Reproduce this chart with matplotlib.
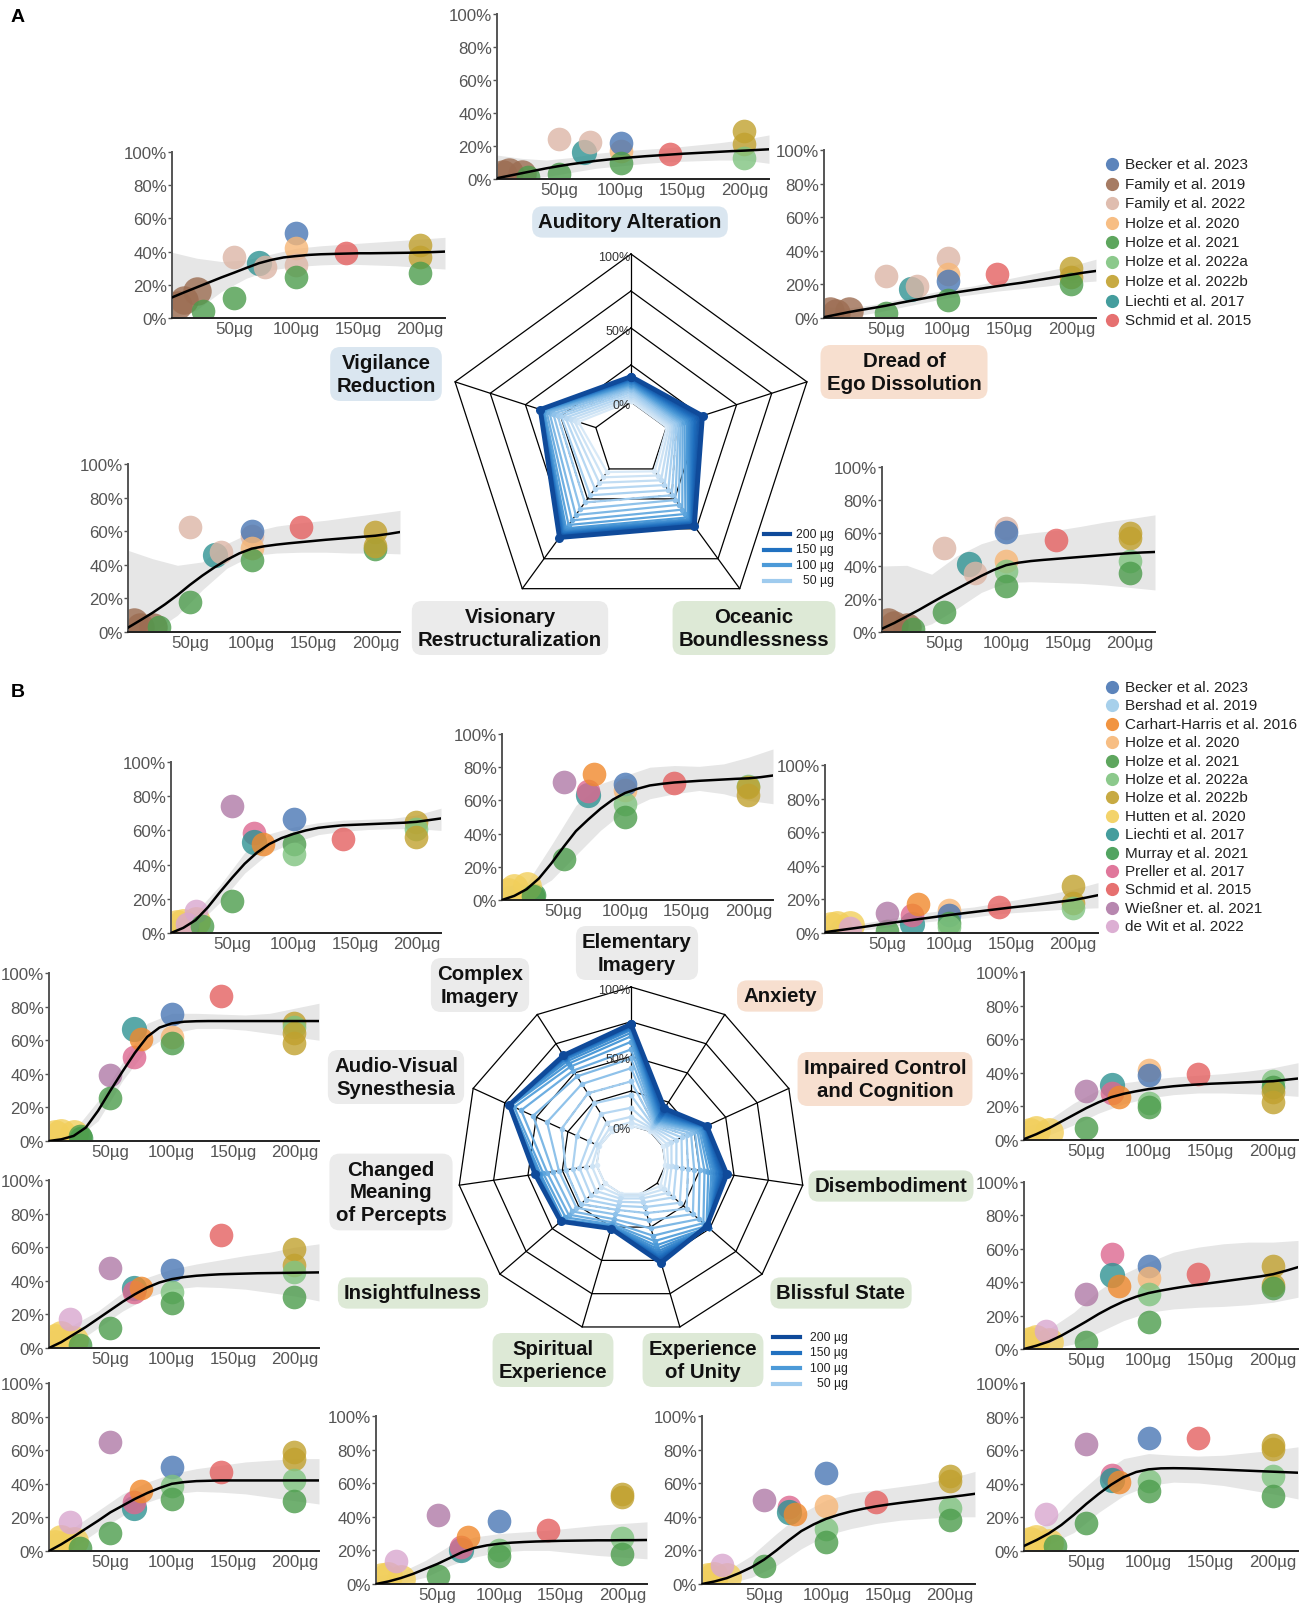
import numpy as np
import matplotlib
matplotlib.use("Agg")
import matplotlib.pyplot as plt
from matplotlib.colors import LinearSegmentedColormap

plt.rcParams["font.family"] = ["Liberation Sans", "DejaVu Sans"]

FIG_W, FIG_H = 1315, 1606

# ---------------------------------------------------------------- studies
BEC = "Becker et al. 2023"
BER = "Bershad et al. 2019"
CAR = "Carhart-Harris et al. 2016"
FAM19 = "Family et al. 2019"
FAM22 = "Family et al. 2022"
HOL20 = "Holze et al. 2020"
HOL21 = "Holze et al. 2021"
HOL22A = "Holze et al. 2022a"
HOL22B = "Holze et al. 2022b"
HUT = "Hutten et al. 2020"
LIE = "Liechti et al. 2017"
MUR = "Murray et al. 2021"
PRE = "Preller et al. 2017"
SCH = "Schmid et al. 2015"
WIE = "Wießner et. al. 2021"
DEW = "de Wit et al. 2022"

COLORS = {
    BEC: "#4a77b4", BER: "#9ecbe9", CAR: "#f0892c", FAM19: "#9c6d52",
    FAM22: "#dcb6a6", HOL20: "#f7b777", HOL21: "#4c9c4c", HOL22A: "#80c480",
    HOL22B: "#c1a12e", HUT: "#f2cf5b", LIE: "#2f9292", MUR: "#3f9a50",
    PRE: "#dd6890", SCH: "#e46060", WIE: "#b07aa6", DEW: "#d9a7cf",
}
SIZES = {FAM19: 420, HUT: 430, LIE: 330}

LEGEND_A = [BEC, FAM19, FAM22, HOL20, HOL21, HOL22A, HOL22B, LIE, SCH]
LEGEND_B = [BEC, BER, CAR, HOL20, HOL21, HOL22A, HOL22B, HUT, LIE, MUR,
            PRE, SCH, WIE, DEW]

# ---------------------------------------------------------------- axes scales
FIT_DOSES = list(range(0, 221, 10))
BAND_DOSES = list(range(0, 221, 20))
RADAR_DOSES = list(range(0, 201, 10))
DOSE_TICKS = [50, 100, 150, 200]
DOSE_TICK_LABELS = ["50µg", "100µg", "150µg", "200µg"]
PCT_TICKS = [0, 20, 40, 60, 80, 100]
PCT_TICK_LABELS = ["0%", "20%", "40%", "60%", "80%", "100%"]
RING_LEVELS = [0, 25, 50, 75, 100]
LEGEND_DOSES = [200, 150, 100, 50]
DOSE_LABELS = ["200 µg", "150 µg", "100 µg", "50 µg"]

# ---------------------------------------------------------------- panel A data
AUD_PTS = [(FAM19, 5, 3), (FAM19, 10, 4), (FAM19, 20, 3), (HOL21, 25, 1.5),
           (HOL21, 50, 3), (FAM22, 50, 24.5), (LIE, 70, 16.5), (FAM22, 75, 22.5),
           (HOL20, 100, 17), (BEC, 100, 22), (HOL21, 100, 9.5), (SCH, 140, 15),
           (HOL22B, 200, 29), (HOL22B, 200, 21), (HOL22A, 200, 13)]
AUD_FIT = [0.5, 2, 3.5, 5, 6.5, 7.8, 9, 10, 11, 11.8, 12.5, 13.2, 13.8, 14.3,
           14.8, 15.3, 15.7, 16.1, 16.5, 16.9, 17.2, 17.6, 18.0]
AUD_LO = [0, 0, 1.5, 4, 6.5, 8, 9.5, 10.5, 11, 11.5, 11.5, 9.5]
AUD_HI = [14.5, 12.5, 11.5, 13, 15.5, 17, 18, 19, 20.5, 22, 24, 26.7]

VIG_PTS = [(FAM19, 5, 8), (FAM19, 10, 11), (FAM19, 20, 16), (HOL21, 25, 4.5),
           (HOL21, 50, 12), (FAM22, 50, 37), (LIE, 70, 33), (FAM22, 75, 31),
           (BEC, 100, 51), (HOL20, 100, 42), (FAM22, 100, 32), (HOL21, 100, 24.5),
           (SCH, 140, 39), (HOL22B, 200, 44), (HOL22B, 200, 37), (HOL21, 200, 27)]
VIG_FIT = [12.4, 15.5, 18.5, 21.5, 24.5, 27.3, 30.2, 33, 35, 36.5, 37.3, 38,
           38.4, 38.6, 38.8, 39, 39, 39.1, 39.2, 39.3, 39.5, 39.7, 40]
VIG_LO = [0, 5, 16, 24, 29, 31, 32, 32.5, 32, 31.5, 30.5, 29.5]
VIG_HI = [39.6, 36, 34, 35, 38.5, 42, 43.5, 44.5, 45.5, 46.5, 47.5, 48.6]

DRE_PTS = [(FAM19, 5, 4), (FAM19, 10, 3), (FAM19, 20, 4), (HOL21, 50, 3),
           (FAM22, 50, 25), (LIE, 70, 17), (FAM22, 75, 19), (FAM22, 100, 36),
           (HOL20, 100, 26), (BEC, 100, 22), (HOL21, 100, 11), (SCH, 140, 26),
           (HOL22B, 200, 30), (HOL22B, 200, 24.5), (HOL21, 200, 20)]
DRE_FIT = [0.5, 2, 3.5, 4.8, 6, 7.3, 8.8, 10.2, 11.6, 13, 14.5, 15.6, 16.7,
           17.8, 18.9, 20, 21, 22.2, 23.4, 24.6, 25.8, 27, 28]
DRE_LO = [0, 0.5, 3, 6, 9, 12, 14, 16, 17.5, 19, 21, 22]
DRE_HI = [7, 6, 8, 11, 14, 17, 19, 22, 25, 28, 31, 35]

VIS_PTS = [(FAM19, 5, 6), (FAM19, 10, 3), (FAM19, 20, 3), (HOL21, 25, 3),
           (HOL21, 50, 18), (FAM22, 50, 62.5), (LIE, 70, 46), (FAM22, 75, 47.5),
           (FAM22, 100, 57), (BEC, 100, 60), (HOL20, 100, 50), (HOL21, 100, 43),
           (SCH, 140, 62.5), (HOL22B, 200, 59.5), (HOL21, 200, 49.5),
           (HOL22B, 200, 51)]
VIS_FIT = [2.6, 7, 11.5, 16.5, 22, 28, 33.5, 38.5, 43, 46.8, 49.6, 51, 52,
           52.8, 53.5, 54.2, 54.9, 55.5, 56.1, 56.7, 57.3, 58.3, 59.5]
VIS_LO = [0, 0, 10, 25, 38, 45.5, 47, 47.5, 47.5, 47, 47, 46.5]
VIS_HI = [48.6, 43.6, 39.7, 41.7, 52.6, 59.5, 63, 65, 66.5, 68.5, 70.4, 72.4]

OCE_PTS = [(FAM19, 5, 6), (FAM19, 10, 4), (FAM19, 20, 3), (HOL21, 25, 2),
           (HOL21, 50, 12), (FAM22, 50, 51), (LIE, 70, 41), (FAM22, 75, 36),
           (FAM22, 100, 63), (BEC, 100, 60.5), (HOL20, 100, 43), (HOL22A, 100, 37),
           (HOL21, 100, 28), (SCH, 140, 56), (HOL22B, 200, 60), (HOL22B, 200, 57),
           (HOL22A, 200, 43), (HOL21, 200, 36)]
OCE_FIT = [2, 5.5, 9.5, 13.5, 17.8, 22, 26, 30, 34, 37.6, 40.5, 42, 43, 43.7,
           44.3, 44.9, 45.5, 46.1, 46.7, 47.3, 47.8, 48.2, 48.5]
OCE_LO = [0, 0, 5, 14, 24, 30, 30.5, 30, 29.5, 28.5, 27, 25.5]
OCE_HI = [40, 40.4, 35, 46, 53.5, 58, 60, 61.6, 64, 66.7, 68.7, 71]

# ---------------------------------------------------------------- panel B data
CPX_PTS = [(BER, 6.5, 2), (BER, 13, 3), (MUR, 13, 2), (HUT, 5, 5), (HUT, 10, 6),
           (HUT, 20, 7), (DEW, 13, 5), (DEW, 20, 13), (HOL21, 25, 4),
           (HOL21, 50, 19), (WIE, 50, 74), (PRE, 68, 58.5), (LIE, 68, 53),
           (CAR, 75, 52), (BEC, 100, 66.5), (HOL21, 100, 52), (HOL22A, 100, 46),
           (SCH, 140, 55), (HOL22B, 200, 65), (HOL22A, 200, 61), (HOL22B, 200, 56)]
CPX_FIT = [0, 3, 7.5, 15, 24, 32.5, 40.5, 47, 52, 55.5, 58, 60, 61.5, 62.3, 63,
           63.3, 63.6, 63.9, 64.2, 64.5, 65, 66, 67]
CPX_LO = [0, 4, 18, 35, 47, 53, 57.5, 59.5, 60.5, 61, 61, 60]
CPX_HI = [2, 12, 28, 47, 58, 62, 64.5, 66, 66.5, 67, 69, 73]

ELE_PTS = [(BER, 6.5, 2), (BER, 13, 3), (MUR, 26, 3), (HUT, 5, 5), (HUT, 10, 7),
           (HUT, 20, 8.5), (HOL21, 25, 2.5), (HOL21, 50, 25), (WIE, 50, 71),
           (LIE, 70, 63.5), (PRE, 70, 65.5), (CAR, 75, 76), (HOL20, 100, 66.5),
           (BEC, 100, 70), (HOL22A, 100, 58), (HOL21, 100, 50), (SCH, 140, 70.5),
           (HOL22A, 200, 68.5), (HOL22B, 200, 68), (HOL22B, 200, 63)]
ELE_FIT = [0, 2.5, 6.5, 13, 22, 32, 41.5, 48.5, 55, 60.5, 64.5, 67, 69, 70,
           70.8, 71.3, 71.8, 72.2, 72.6, 73, 73.3, 74, 75]
ELE_LO = [0, 3, 12, 27, 42, 54, 61, 64, 66, 64, 60, 58]
ELE_HI = [3, 10, 33, 57, 70, 75, 80, 81, 80.5, 82, 86, 91]

ANX_PTS = [(BER, 13, 2), (HUT, 5, 4), (HUT, 10, 5), (HUT, 20, 4.5), (DEW, 20, 3),
           (HOL21, 50, 1), (WIE, 50, 12), (LIE, 70, 5.5), (PRE, 70, 10.5),
           (CAR, 75, 17), (HOL20, 100, 13.5), (BEC, 100, 10.5), (HOL21, 100, 6),
           (HOL22A, 100, 3.5), (SCH, 140, 15.5), (HOL22B, 200, 28),
           (HOL22B, 200, 18), (HOL22A, 200, 15)]
ANX_FIT = [0.5, 1.5, 2.5, 3.5, 4.6, 5.7, 6.7, 7.7, 8.7, 9.7, 10.7, 11.6, 12.5,
           13.4, 14.3, 15.2, 16, 16.9, 17.8, 18.7, 19.6, 21, 22.5]
ANX_LO = [0, 1, 2.5, 4.5, 6.5, 8, 9.5, 11.5, 12.5, 13.5, 14.5, 15]
ANX_HI = [4, 4.5, 7, 9.5, 12, 14, 15.5, 18, 20.5, 23, 26, 30]

AVS_PTS = [(HUT, 5, 4), (HUT, 10, 5), (HUT, 20, 4), (MUR, 26, 2), (HOL21, 25, 3),
           (WIE, 50, 39.5), (HOL21, 50, 25.5), (LIE, 69, 66.5), (PRE, 69, 50),
           (CAR, 75, 60.5), (BEC, 100, 75.5), (HOL20, 100, 62), (HOL21, 100, 58.5),
           (SCH, 140, 86.5), (HOL22B, 200, 70), (HOL22A, 200, 68),
           (HOL22B, 200, 64), (HOL22B, 200, 58.5)]
AVS_FIT = [0, 1, 3, 8, 18, 30, 41.5, 52.5, 62, 67.5, 70, 71, 71.3, 71.4, 71.4,
           71.4, 71.4, 71.4, 71.4, 71.4, 71.4, 71.4, 71.4]
AVS_LO = [0, 0.5, 12, 36, 55, 64, 67, 67, 66, 64, 62, 60]
AVS_HI = [2, 6, 24, 47, 70, 76, 76, 75.5, 75, 76, 79, 82]

IMP_PTS = [(HUT, 5, 5), (HUT, 10, 6), (HUT, 20, 5), (HOL21, 50, 7), (WIE, 50, 29),
           (LIE, 71, 32.5), (PRE, 71, 28), (CAR, 76, 25.5), (HOL20, 100, 41.5),
           (BEC, 100, 38.5), (HOL22A, 100, 22), (HOL21, 100, 19.5),
           (SCH, 140, 39.5), (HOL22A, 200, 35), (HOL21, 200, 31.5),
           (HOL22B, 200, 28.5), (HOL22B, 200, 22.5)]
IMP_FIT = [0.5, 3.5, 7, 11, 15, 19, 22.5, 25.5, 27.5, 29, 30.3, 31.2, 32, 32.6,
           33.1, 33.5, 33.8, 34.1, 34.4, 34.7, 35, 35.8, 36.6]
IMP_LO = [0, 3, 9, 16, 21.5, 25, 27, 28, 28, 27.5, 27, 26]
IMP_HI = [8, 12, 22, 30, 34, 36, 37.5, 38.5, 39.5, 41, 43, 46]

CMP_PTS = [(HUT, 5, 6), (HUT, 10, 8), (HUT, 20, 5), (DEW, 17, 17.5),
           (HOL21, 25, 2), (HOL21, 50, 12), (WIE, 50, 47.5), (LIE, 69, 35.5),
           (PRE, 69, 33.5), (CAR, 75, 35.5), (BEC, 100, 46.5), (HOL22A, 100, 33.5),
           (HOL21, 100, 27), (SCH, 140, 67), (HOL22B, 200, 59), (HOL22B, 200, 49.5),
           (HOL22A, 200, 45), (HOL21, 200, 30.5)]
CMP_FIT = [0, 3.5, 8, 12.5, 17.5, 22.5, 27.5, 32, 36, 39, 41, 42.2, 43, 43.5,
           43.9, 44.1, 44.3, 44.5, 44.6, 44.7, 44.8, 44.9, 45]
CMP_LO = [0, 2, 12, 22, 30, 35, 36.5, 36, 35, 33, 31, 28]
CMP_HI = [10, 14, 22, 33, 42, 47, 50, 52.5, 55, 57, 60, 62]

DIS_PTS = [(HUT, 5, 5), (HUT, 10, 6), (HUT, 20, 4), (DEW, 18, 11), (HOL21, 50, 4),
           (WIE, 50, 33), (PRE, 71, 57), (LIE, 71, 44.5), (CAR, 76, 38),
           (BEC, 100, 49.5), (HOL20, 100, 42.5), (HOL22A, 100, 33),
           (HOL21, 100, 16), (SCH, 140, 45), (HOL22B, 200, 50), (HOL22B, 200, 38.5),
           (HOL21, 200, 36.5)]
DIS_FIT = [0, 2, 4.5, 8, 12.2, 16.5, 21, 25, 28.5, 31.3, 33.5, 35, 36.3, 37.5,
           38.5, 39.5, 40.5, 41.5, 42.5, 43.5, 44.8, 46.8, 49]
DIS_LO = [0, 0, 3, 10, 17, 22, 24, 25, 25.5, 26.5, 28, 31]
DIS_HI = [10, 12, 22, 35, 45, 52, 58, 61, 63, 64, 64, 65]

INS_PTS = [(HUT, 5, 4), (HUT, 10, 7), (HUT, 20, 6), (DEW, 17, 17.5),
           (HOL21, 25, 2), (HOL21, 50, 10.5), (WIE, 50, 65), (LIE, 69, 25.5),
           (PRE, 69, 29), (CAR, 75, 35.5), (BEC, 100, 50), (HOL22A, 100, 38.5),
           (HOL21, 100, 31), (SCH, 140, 47), (HOL22B, 200, 59), (HOL22B, 200, 55),
           (HOL22A, 200, 42.5), (HOL21, 200, 29.5)]
INS_FIT = [0, 4, 8.5, 13.3, 18, 23, 27, 31, 34.5, 37.5, 40, 41, 41.6, 41.8, 42,
           42, 42, 42, 42, 42, 42, 42, 42]
INS_LO = [0, 2, 12, 21, 29, 34, 35.5, 35, 34, 32, 30, 28]
INS_HI = [10, 14, 24, 34, 41, 46, 49, 51, 53, 54, 55, 55]

SPI_PTS = [(HUT, 5, 4), (HUT, 10, 5), (HUT, 20, 3), (DEW, 16, 13.5),
           (HOL21, 50, 5), (WIE, 50, 41), (LIE, 69, 20), (PRE, 69, 22),
           (CAR, 75, 28), (BEC, 100, 37.5), (HOL22A, 100, 20), (HOL21, 100, 16.5),
           (SCH, 140, 32), (HOL22B, 200, 51.5), (HOL22B, 200, 53.5),
           (HOL22A, 200, 27.5), (HOL21, 200, 18)]
SPI_FIT = [0, 1.5, 3.5, 6, 9, 12, 15.5, 19, 21.5, 23, 24, 24.6, 25, 25.3, 25.5,
           25.7, 25.8, 25.9, 26, 26, 26.1, 26.1, 26.2]
SPI_LO = [0, 0.5, 4, 11, 16, 19, 20, 20, 18.5, 17, 16, 15]
SPI_HI = [5, 7, 14, 23, 28, 30, 31, 32, 33.5, 35, 36, 37]

UNI_PTS = [(HUT, 5, 4), (HUT, 10, 5), (HUT, 20, 4), (DEW, 16, 11.5),
           (HOL21, 50, 10.5), (WIE, 50, 50), (PRE, 70, 46), (LIE, 70, 43),
           (CAR, 75, 41.5), (BEC, 100, 66), (HOL20, 100, 46.5), (HOL22A, 100, 33),
           (HOL21, 100, 25), (SCH, 140, 49), (HOL22B, 200, 64), (HOL22B, 200, 61.5),
           (HOL22A, 200, 45.5), (HOL21, 200, 38)]
UNI_FIT = [0, 1.5, 3.5, 6.5, 10, 14.5, 20, 26, 31.5, 35.5, 38.8, 41.2, 43.2,
           44.8, 46.2, 47.3, 48.3, 49.2, 50.1, 51, 51.8, 52.7, 53.7]
UNI_LO = [0, 0, 4, 11, 21, 29, 33, 36, 38, 39, 40, 40]
UNI_HI = [8, 8, 17, 30, 42, 50, 54, 56, 58, 60, 63, 67]

BLI_PTS = [(HUT, 5, 6), (HUT, 10, 7), (HUT, 20, 5), (DEW, 18, 22),
           (HOL21, 25, 3), (HOL21, 50, 16.5), (WIE, 50, 63.5), (PRE, 71, 45.5),
           (LIE, 71, 42), (CAR, 76, 41), (BEC, 100, 67.5), (HOL22A, 100, 41.5),
           (HOL21, 100, 35.5), (SCH, 140, 67.5), (HOL22B, 200, 63),
           (HOL22B, 200, 60.5), (HOL22A, 200, 44.5), (HOL21, 200, 33)]
BLI_FIT = [3, 6.5, 10.5, 15.5, 21.5, 28, 34, 39.5, 44, 47, 48.6, 49.2, 49.3,
           49.2, 49, 48.7, 48.4, 48.1, 47.8, 47.5, 47.2, 46.9, 46.6]
BLI_LO = [0, 4, 11, 23, 33, 39, 41, 40.5, 39, 36.5, 34, 31]
BLI_HI = [10, 17, 32, 45, 55, 58, 57, 56.5, 57, 58.5, 60, 62]

# ---------------------------------------------------------------- styling
BOX_BLUE, BOX_PEACH, BOX_GRAY, BOX_GREEN = "#dae6f0", "#f7dfcf", "#ebebeb", "#dde9d6"
DOSE_CMAP = LinearSegmentedColormap.from_list(
    "dose", [(0.0, "#d8e9f7"), (0.25, "#9fcbee"), (0.5, "#4c9ad8"),
             (0.75, "#2171c0"), (1.0, "#0f4a9a")])
TICK_GRAY = "#555555"

fig = plt.figure(figsize=(FIG_W / 100, FIG_H / 100), dpi=100)


def px_axes(x0, y0, x1, y1, **kw):
    return fig.add_axes([x0 / FIG_W, 1 - y1 / FIG_H, (x1 - x0) / FIG_W,
                         (y1 - y0) / FIG_H], **kw)


def dose_panel(box, pts, fit, lo, hi):
    ax = px_axes(*box)
    ax.fill_between(BAND_DOSES, lo, hi, color="#e6e6e6", lw=0, zorder=1)
    for study, dose, val in pts:
        ax.scatter(dose, val, s=SIZES.get(study, 290), color=COLORS[study],
                   alpha=0.8, lw=0, zorder=2)
    ax.plot(FIT_DOSES, fit, color="black", lw=1.8, zorder=3)
    ax.set_xlim(0, 220)
    ax.set_ylim(0, 100)
    ax.set_xticks(DOSE_TICKS, DOSE_TICK_LABELS)
    ax.set_yticks(PCT_TICKS, PCT_TICK_LABELS)
    ax.tick_params(axis="y", length=3, width=1, color="#555", pad=0.5,
                   labelsize=12.2, labelcolor=TICK_GRAY)
    ax.tick_params(axis="x", length=0, pad=2, labelsize=12.2,
                   labelcolor=TICK_GRAY)
    for side in ("top", "right"):
        ax.spines[side].set_visible(False)
    ax.spines["left"].set_color("#555")
    ax.spines["bottom"].set_color("#222")
    ax.spines["left"].set_linewidth(1.4)
    ax.spines["bottom"].set_linewidth(1.4)
    ax.patch.set_alpha(0)
    return ax


def radar(center, radius_px, fits):
    cx, cy = center
    half = radius_px + 15
    ax = px_axes(cx - half, cy - half, cx + half, cy + half)
    lim = half * 125.0 / radius_px
    ax.set_xlim(-lim, lim)
    ax.set_ylim(-lim, lim)
    ax.axis("off")
    n = len(fits)
    theta = 2 * np.pi * np.arange(n) / n
    sx, sy = np.sin(theta), np.cos(theta)

    def outline(vals):
        r = np.asarray(vals, dtype=float) + 25.0
        x, y = r * sx, r * sy
        return np.append(x, x[0]), np.append(y, y[0])

    for lvl in RING_LEVELS:
        x, y = outline([lvl] * n)
        ax.plot(x, y, color="black", lw=0.9, zorder=1)
    for k in range(n):
        ax.plot([25 * sx[k], 125 * sx[k]], [25 * sy[k], 125 * sy[k]],
                color="black", lw=0.9, zorder=1)

    idx50 = FIT_DOSES.index(50)
    x, y = outline([f[idx50] for f in fits])
    ax.plot(x, y, color="black", lw=1.0, ls=(0, (4, 3)), zorder=2)

    for d in RADAR_DOSES:
        i = FIT_DOSES.index(d)
        vals = [f[i] for f in fits]
        x, y = outline(vals)
        col = DOSE_CMAP(d / 200.0)
        top = d == RADAR_DOSES[-1]
        ax.plot(x, y, color=col, lw=3.4 if top else 1.6, marker="o",
                ms=6.5 if top else 4, mec="none", zorder=3 + d / 200.0)

    for lvl, txt in ((100, "100%"), (50, "50%"), (0, "0%")):
        ax.text(-0.5, lvl + 25 - 2, txt, ha="right", va="center",
                fontsize=9, color="#333", zorder=6)
    return ax


# ---------------------------------------------------------------- panel A
dose_panel((497, 15, 769, 180), AUD_PTS, AUD_FIT, AUD_LO, AUD_HI)
dose_panel((172, 153, 445, 319), VIG_PTS, VIG_FIT, VIG_LO, VIG_HI)
dose_panel((824, 151, 1096, 319), DRE_PTS, DRE_FIT, DRE_LO, DRE_HI)
dose_panel((128, 465, 400, 633), VIS_PTS, VIS_FIT, VIS_LO, VIS_HI)
dose_panel((882, 468, 1155, 633), OCE_PTS, OCE_FIT, OCE_LO, OCE_HI)
radar((631, 440), 185, [AUD_FIT, DRE_FIT, OCE_FIT, VIS_FIT, VIG_FIT])

# ---------------------------------------------------------------- panel B
dose_panel((171, 763, 441, 934), CPX_PTS, CPX_FIT, CPX_LO, CPX_HI)
dose_panel((502, 735, 773, 901), ELE_PTS, ELE_FIT, ELE_LO, ELE_HI)
dose_panel((825, 766, 1098, 934), ANX_PTS, ANX_FIT, ANX_LO, ANX_HI)
dose_panel((49, 974, 319, 1142), AVS_PTS, AVS_FIT, AVS_LO, AVS_HI)
dose_panel((1024, 973, 1298, 1141), IMP_PTS, IMP_FIT, IMP_LO, IMP_HI)
dose_panel((49, 1181, 319, 1349), CMP_PTS, CMP_FIT, CMP_LO, CMP_HI)
dose_panel((1024, 1183, 1298, 1350), DIS_PTS, DIS_FIT, DIS_LO, DIS_HI)
dose_panel((49, 1384, 319, 1552), INS_PTS, INS_FIT, INS_LO, INS_HI)
dose_panel((376, 1417, 647, 1585), SPI_PTS, SPI_FIT, SPI_LO, SPI_HI)
dose_panel((702, 1417, 975, 1585), UNI_PTS, UNI_FIT, UNI_LO, UNI_HI)
dose_panel((1024, 1384, 1298, 1552), BLI_PTS, BLI_FIT, BLI_LO, BLI_HI)
radar((631, 1161.5), 173.5, [ELE_FIT, ANX_FIT, IMP_FIT, DIS_FIT, BLI_FIT,
                             UNI_FIT, SPI_FIT, INS_FIT, CMP_FIT, AVS_FIT, CPX_FIT])

# ---------------------------------------------------------------- annotations
ov = fig.add_axes([0, 0, 1, 1], zorder=10)
ov.set_xlim(0, FIG_W)
ov.set_ylim(FIG_H, 0)
ov.axis("off")

ov.text(11, 17, "A", fontsize=14, fontweight="bold", va="center")
ov.text(11, 693, "B", fontsize=14, fontweight="bold", va="center")

DIM_LABELS = [
    ("Auditory Alteration", 630, 223, BOX_BLUE),
    ("Vigilance\nReduction", 386, 375, BOX_BLUE),
    ("Dread of\nEgo Dissolution", 904, 373, BOX_PEACH),
    ("Visionary\nRestructuralization", 510, 629, BOX_GRAY),
    ("Oceanic\nBoundlessness", 754, 629, BOX_GREEN),
    ("Complex\nImagery", 480, 986, BOX_GRAY),
    ("Elementary\nImagery", 637, 954, BOX_GRAY),
    ("Anxiety", 780, 997, BOX_PEACH),
    ("Audio-Visual\nSynesthesia", 396, 1078, BOX_GRAY),
    ("Impaired Control\nand Cognition", 885, 1080, BOX_PEACH),
    ("Changed\nMeaning\nof Percepts", 391, 1193, BOX_GRAY),
    ("Disembodiment", 891, 1187, BOX_GREEN),
    ("Insightfulness", 413, 1294, BOX_GREEN),
    ("Blissful State", 841, 1294, BOX_GREEN),
    ("Spiritual\nExperience", 553, 1361, BOX_GREEN),
    ("Experience\nof Unity", 703, 1361, BOX_GREEN),
]
for txt, x, y, col in DIM_LABELS:
    ov.text(x, y, txt, ha="center", va="center", fontsize=14.7,
            fontweight="bold", linespacing=1.25, color="#111",
            bbox=dict(boxstyle="round,pad=0.3,rounding_size=0.5", fc=col,
                      ec="none"))


def study_legend(names, x, y0, dy):
    for i, name in enumerate(names):
        y = y0 + i * dy
        ov.plot([x], [y], "o", ms=9.5, color=COLORS[name], alpha=0.9, mec="none")
        ov.text(x + 13, y, name, fontsize=11, va="center", color="#222")


study_legend(LEGEND_A, 1112, 165, 19.5)
study_legend(LEGEND_B, 1112, 688, 18.4)


def dose_legend(x0, x1, xr, y0, dy):
    for i, (d, lab) in enumerate(zip(LEGEND_DOSES, DOSE_LABELS)):
        y = y0 + i * dy
        ov.plot([x0, x1], [y, y], color=DOSE_CMAP(d / 200.0), lw=3)
        ov.text(xr, y, lab, ha="right", va="center", fontsize=8.8, color="#222")


dose_legend(764, 790, 834, 535, 15.5)
dose_legend(773, 800, 848, 1338, 15.5)

fig.savefig("out.png", dpi=100)
